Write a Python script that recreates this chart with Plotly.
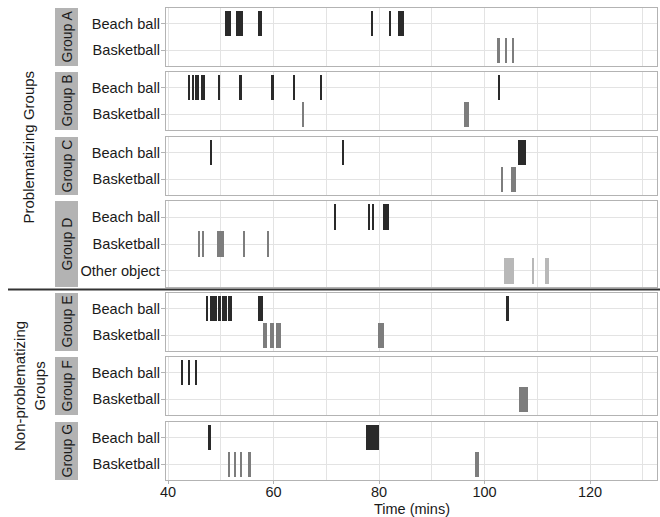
import plotly.graph_objects as go

# ---------------- data ----------------
groups = ["Group A", "Group B", "Group C", "Group D", "Group E", "Group F", "Group G"]
group_objects = {
    "Group A": ["Beach ball", "Basketball"],
    "Group B": ["Beach ball", "Basketball"],
    "Group C": ["Beach ball", "Basketball"],
    "Group D": ["Beach ball", "Basketball", "Other object"],
    "Group E": ["Beach ball", "Basketball"],
    "Group F": ["Beach ball", "Basketball"],
    "Group G": ["Beach ball", "Basketball"],
}
x_ticks = [40, 60, 80, 100, 120]

# events: (start, end) in minutes
a_beach = [(50.8, 51.9), (52.9, 54.2), (57.0, 57.8), (78.6, 78.8), (81.8, 82.3), (83.5, 84.7)]
a_basket = [(102.3, 102.9), (104.0, 104.3), (105.3, 105.6)]
b_beach = [(43.9, 44.1), (44.6, 44.8), (45.2, 45.4), (45.6, 45.8), (46.3, 46.9), (49.6, 49.9),
           (53.4, 54.0), (59.6, 60.0), (63.7, 64.0), (68.9, 69.1), (102.6, 102.8)]
b_basket = [(65.4, 65.6), (96.1, 97.0)]
c_beach = [(48.1, 48.3), (72.9, 73.4), (106.4, 107.8)]
c_basket = [(103.2, 103.4), (105.1, 106.0)]
d_beach = [(71.4, 71.8), (78.0, 78.3), (78.8, 79.1), (80.7, 81.8)]
d_basket = [(45.7, 45.9), (46.5, 46.7), (49.2, 50.6), (54.3, 54.5), (58.8, 59.1)]
d_other = [(103.6, 105.5), (109.1, 109.3), (111.5, 112.2)]
e_beach = [(47.1, 47.6), (47.9, 48.5), (48.6, 49.2), (49.5, 50.1), (50.3, 51.1), (51.3, 52.1),
           (57.1, 58.0), (104.0, 104.7)]
e_basket = [(57.9, 58.7), (59.3, 60.0), (60.4, 61.4), (79.8, 81.0)]
f_beach = [(42.5, 42.85), (43.9, 44.15), (45.25, 45.4)]
f_basket = [(106.6, 108.2)]
g_beach = [(47.6, 48.2), (77.6, 79.9)]
g_basket = [(51.4, 51.6), (52.6, 52.8), (53.8, 54.0), (55.2, 55.8), (98.2, 98.9)]

events = {
    ("Group A", "Beach ball"): a_beach, ("Group A", "Basketball"): a_basket,
    ("Group B", "Beach ball"): b_beach, ("Group B", "Basketball"): b_basket,
    ("Group C", "Beach ball"): c_beach, ("Group C", "Basketball"): c_basket,
    ("Group D", "Beach ball"): d_beach, ("Group D", "Basketball"): d_basket,
    ("Group D", "Other object"): d_other,
    ("Group E", "Beach ball"): e_beach, ("Group E", "Basketball"): e_basket,
    ("Group F", "Beach ball"): f_beach, ("Group F", "Basketball"): f_basket,
    ("Group G", "Beach ball"): g_beach, ("Group G", "Basketball"): g_basket,
}

# ---------------- style ----------------
colors = {"Beach ball": "#2a2a2a", "Basketball": "#7d7d7d", "Other object": "#b8b8b8"}
FONT = "Liberation Sans, Arial, sans-serif"
TXT = "#1a1a1a"
GRID = "#e3e3e3"
BORDER = "#b3b3b3"

W_FIG, H_FIG = 660, 517
L, R, T, B = 166, 3, 8, 37
PW = W_FIG - L - R
PH = H_FIG - T - B
panel_px = [(8, 66), (72, 130), (137, 195), (201, 287), (293, 351), (357, 415), (422, 480)]


def px_x(px):
    return (px - L) / PW


def px_y(py):
    return (T + PH - py) / PH


fig = go.Figure()
layout = {}
annotations = []
shapes = []

for i, g in enumerate(groups):
    n = i + 1
    xa = "x" if n == 1 else f"x{n}"
    ya = "y" if n == 1 else f"y{n}"
    xkey = "xaxis" if n == 1 else f"xaxis{n}"
    ykey = "yaxis" if n == 1 else f"yaxis{n}"
    objs = group_objects[g]
    for obj in objs:
        evs = events.get((g, obj), [])
        fig.add_trace(go.Bar(
            orientation="h",
            y=[obj] * len(evs),
            base=[s for s, e in evs],
            x=[e - s for s, e in evs],
            width=0.94,
            marker=dict(color=colors[obj], line=dict(width=0)),
            xaxis=xa, yaxis=ya, showlegend=False,
            hovertemplate=f"{g} – {obj}<br>%{{base}}–%{{x}}<extra></extra>",
        ))
    top, bot = panel_px[i]
    last = (i == len(groups) - 1)
    layout[xkey] = dict(
        domain=[0, 1], anchor=ya, range=[39.6, 132.7],
        tickvals=x_ticks, showticklabels=last,
        showgrid=True, gridcolor=GRID, gridwidth=1,
        minor=dict(dtick=10, tick0=0, showgrid=True, gridcolor=GRID, gridwidth=0.6),
        showline=True, mirror=True, linecolor=BORDER, linewidth=1.3,
        ticks="outside" if last else "", ticklen=3, tickcolor=BORDER,
        ticklabelstandoff=-5,
        tickfont=dict(family=FONT, size=14.5, color=TXT),
        zeroline=False, fixedrange=True,
    )
    if n > 1:
        layout[xkey]["matches"] = "x"
    layout[ykey] = dict(
        domain=[px_y(bot), px_y(top)], anchor=xa,
        type="category", categoryorder="array", categoryarray=objs,
        range=[len(objs) - 1 + 0.6, -0.6],
        showgrid=True, gridcolor=GRID, gridwidth=1,
        showline=True, mirror=True, linecolor=BORDER, linewidth=1.3,
        ticks="outside", ticklen=4, tickcolor=BORDER,
        ticklabelstandoff=-2,
        tickfont=dict(family=FONT, size=14.6, color=TXT),
        zeroline=False, fixedrange=True,
    )
    # facet strip
    shapes.append(dict(type="rect", xref="paper", yref="paper",
                       x0=px_x(55), x1=px_x(78), y0=px_y(bot), y1=px_y(top),
                       fillcolor="#b3b3b3", line=dict(width=0), layer="below"))
    annotations.append(dict(text=g, xref="paper", yref="paper",
                            x=px_x(66.5), y=px_y((top + bot) / 2), textangle=-90,
                            showarrow=False, xanchor="center", yanchor="middle",
                            font=dict(family=FONT, size=14, color=TXT)))

# separator line
shapes.append(dict(type="line", xref="paper", yref="paper",
                   x0=px_x(8), x1=px_x(660), y0=px_y(289.5), y1=px_y(289.5),
                   line=dict(color="#333333", width=2)))

# outer group labels
annotations.append(dict(text="Problematizing Groups", xref="paper", yref="paper",
                        x=px_x(28), y=px_y(147.5), textangle=-90, showarrow=False,
                        xanchor="center", yanchor="middle",
                        font=dict(family=FONT, size=15, color=TXT)))
annotations.append(dict(text="Non-problematizing<br>Groups", xref="paper", yref="paper",
                        x=px_x(29), y=px_y(386), textangle=-90, showarrow=False,
                        xanchor="center", yanchor="middle",
                        font=dict(family=FONT, size=15, color=TXT)))
# x axis title
annotations.append(dict(text="Time (mins)", xref="paper", yref="paper",
                        x=0.5, y=px_y(509), showarrow=False,
                        xanchor="center", yanchor="middle",
                        font=dict(family=FONT, size=14.5, color=TXT)))

fig.update_layout(
    width=W_FIG, height=H_FIG,
    margin=dict(l=L, r=R, t=T, b=B, pad=0),
    paper_bgcolor="white", plot_bgcolor="white",
    barmode="overlay", bargap=0,
    shapes=shapes, annotations=annotations,
    **layout,
)

fig.write_html("out.html")
